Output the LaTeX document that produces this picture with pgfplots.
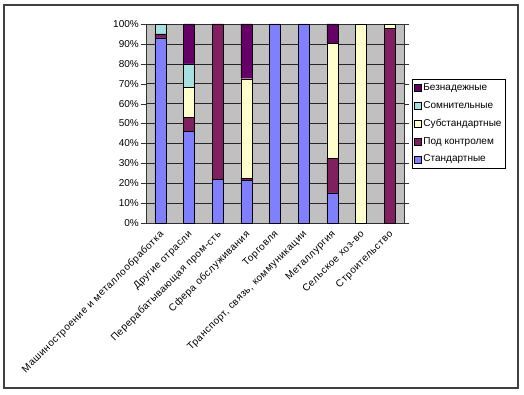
\documentclass[border=0pt]{standalone}
\usepackage{pgfplots}
\pgfplotsset{compat=1.18}
\usepackage{fontspec}
\setmainfont{Liberation Sans}
\definecolor{cStd}{HTML}{8080FF}
\definecolor{cCtrl}{HTML}{802060}
\definecolor{cSub}{HTML}{FFFFCC}
\definecolor{cDoubt}{HTML}{A6E0E0}
\definecolor{cBad}{HTML}{660066}
\definecolor{plotbg}{HTML}{C0C0C0}
\begin{document}
\begin{tikzpicture}[x=1bp,y=1bp]
\path (0,0) rectangle (524,394);
\draw[line width=1.3bp, black!75] (4,6) rectangle (518,389);
\begin{axis}[
  at={(146bp,171bp)}, anchor=south west,
  scale only axis, width=258bp, height=199bp,
  font=\fontsize{10bp}{12bp}\selectfont,
  /pgf/number format/assume math mode=true,
  ybar stacked, bar width=11bp,
  xmin=-0.5, xmax=8.5, ymin=0, ymax=100,
  axis background/.style={fill=plotbg},
  axis line style={black!80},
  ymajorgrids, grid style={black!85, line width=0.6bp},
  ytick={0,10,...,100},
  yticklabel={\pgfmathprintnumber{\tick}\%},
  yticklabel style={inner sep=1bp, xshift=-1bp},
  tick align=outside, major tick length=5bp,
  tick style={black!80},
  xtick={0,...,8},
  xticklabels={Машиностроение и металлообработка, Другие отрасли, Перерабатывающая пром-сть, Сфера обслуживания, Торговля, {Транспорт, связь, коммуникации}, Металлургия, Сельское хоз-во, Строительство},
  x tick style={draw=none},
  xticklabel style={rotate=45, anchor=north east, inner sep=1bp, xshift=-1bp, yshift=1bp,
    font=\fontsize{10bp}{12bp}\selectfont\addfontfeature{LetterSpace=5}},
  extra x ticks={-0.5,0.5,...,8.5},
  extra x tick labels={},
  extra x tick style={grid=none, tick style={draw=black!80}, major tick length=4bp},
  legend style={at={(1.03,0.7236)}, anchor=north west, draw=black, line width=0.6bp,
    font=\fontsize{10bp}{12bp}\selectfont, inner xsep=2bp, inner ysep=2.5bp,
    row sep=5.3bp, cells={anchor=west}},
  legend cell align=left,
  reverse legend,
  legend image code/.code={\draw[#1,draw=black,line width=0.4bp] (0bp,-3.5bp) rectangle (7bp,3.5bp);},
  every axis plot/.append style={draw=black, line width=0.4bp},
]
\addplot[fill=cStd] coordinates {(0,93) (1,46) (2,22) (3,21.5) (4,100) (5,100) (6,15.2) (7,0) (8,0)};
\addplot[fill=cCtrl] coordinates {(0,2) (1,7) (2,78) (3,1) (4,0) (5,0) (6,17.3) (7,0) (8,97.8)};
\addplot[fill=cSub] coordinates {(0,0) (1,15) (2,0) (3,50) (4,0) (5,0) (6,57.8) (7,100) (8,2.2)};
\addplot[fill=cDoubt] coordinates {(0,5) (1,12) (2,0) (3,0) (4,0) (5,0) (6,0) (7,0) (8,0)};
\addplot[fill=cBad] coordinates {(0,0) (1,20) (2,0) (3,27.5) (4,0) (5,0) (6,9.7) (7,0) (8,0)};
\legend{Стандартные, Под контролем, Субстандартные, Сомнительные, Безнадежные}
\end{axis}
\end{tikzpicture}
\end{document}
